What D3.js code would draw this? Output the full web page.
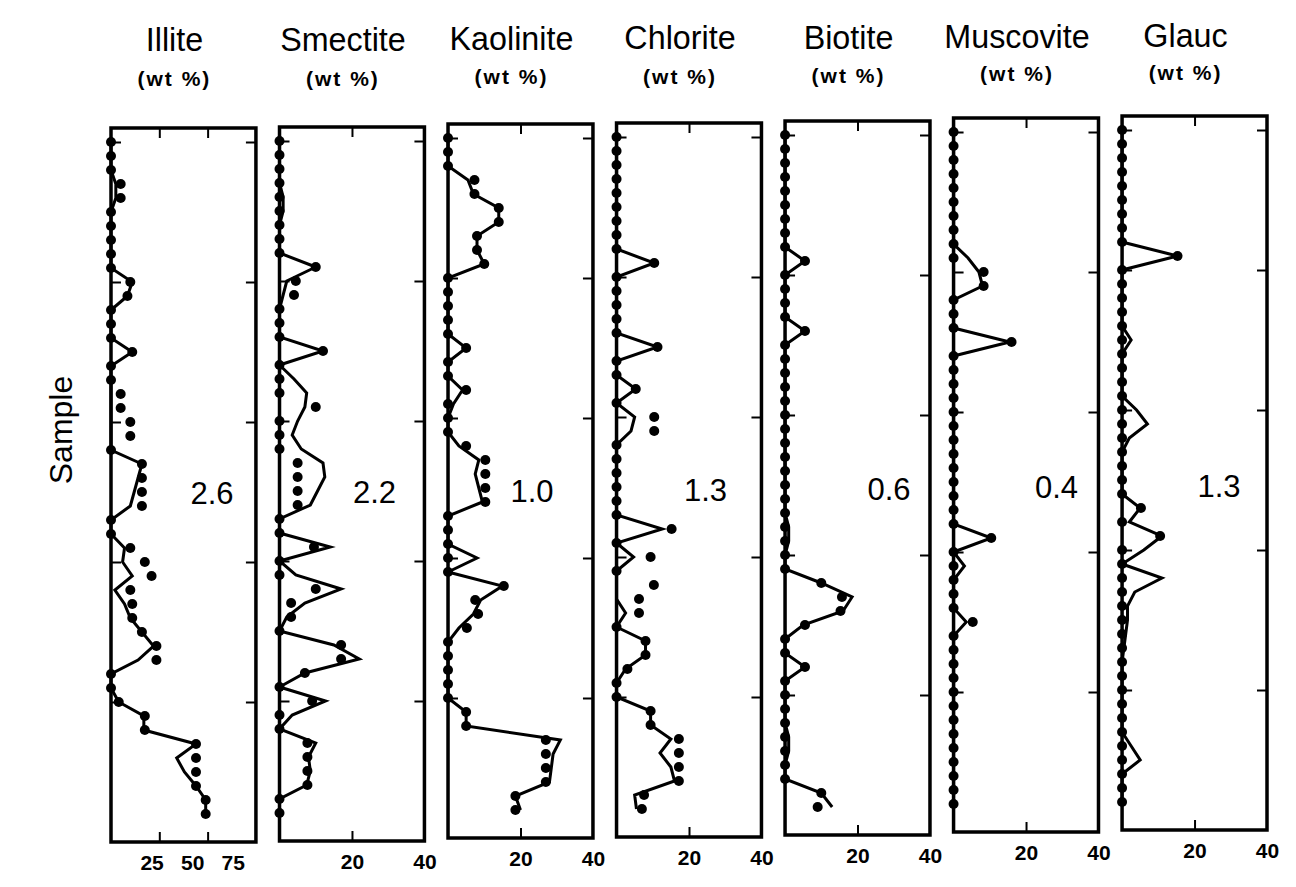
<!DOCTYPE html>
<meta charset="utf-8">
<script src="https://d3js.org/d3.v7.min.js"></script>
<style>
body { margin: 0; background: #fff; }
text { fill: #000; }
</style>
<div id="chart"></div>
<script>

// minerals, axis limits and the totals printed in each column
var minerals = ["Illite", "Smectite", "Kaolinite", "Chlorite", "Biotite", "Muscovite", "Glauc"];
var xMax = [75, 40, 40, 40, 40, 40, 40];
var xTickValues = [[25, 50, 75], [20, 40], [20, 40], [20, 40], [20, 40], [20, 40], [20, 40]];
var totals = ["2.6", "2.2", "1.0", "1.3", "0.6", "0.4", "1.3"];
var sampleTicks = [0, 10, 20, 30, 40];

// measured wt % (dots) and modelled wt % (line), one value per sample, top to bottom
var illiteMeasured = [0,0,0,5,5,0,0,0,0,0,10,8.5,0,0,0,11,0,0,5,5,10,10,0,16,16,16,16,0,0,10,17.5,21,10,11,11,16,23.5,23.5,0,0,4,17.5,17.5,44,44,44,44,49,49];
var illiteModel    = [0,0,0,2.5,2.5,0,0,0,0,0,11,8.5,0,0,0,11,0,0,0,0,0,0,0,16,14,12,10,0,0,7,6,11,2,7,10,16,22,14,0,0,4,17,17,44,34,38,44,49,49];

var smectiteMeasured = [0,0,0,0,0,0,0,0,0,10,4.5,4,0,0,0,12,0,0,0,10,0,0,0,5,5,5,5,0,0,9.5,0,0,10,3.2,3.2,0,17,17,7,0,9,0,0,7.7,7.7,7.7,7.7,0,0];
var smectiteModel    = [0,0,0,0,1,1,0,0,0,10,2,1,0,0,0,12,0,4,7.5,7,5,3.5,6,12,12.5,10.5,8.5,0,0,14,0,4.5,17,7,2,0,15,22,7,0,12.7,3.5,0,10,8,8.5,7.5,0,0];

var kaoliniteMeasured = [0,0,0,7.3,7.3,14,14,8,8,10,0,0,0,0,0,5,0,0,5,0,0,0,5,10.3,10.3,10.3,10.3,0,0,0,0,0,15.4,7.5,8.3,5.2,0,0,0,0,0,5,5,27,27,27,27,18.6,18.6];
var kaoliniteModel    = [0,0,0,5.5,7,14,14,8,8,10,0,0,0,0,0,5,0,0,4,1.5,0,0,3,8.5,7.5,8.5,9.5,0,0,0,8,0,15,9,7,3,0,0,0,0,0,5,5,31,29,28.5,28,18.6,20];

var chloriteMeasured = [0,0,0,0,0,0,0,0,0,10.4,0,0,0,0,0,11.3,0,0,5.3,0,10.4,10.4,0,0,0,0,0,0,15.2,0,9.4,0,10.3,6.2,6.2,0,8,8,3,0,0,9.4,9.4,17.2,17.2,17.2,17.2,7.6,7];
var chloriteModel    = [0,0,0,0,0,0,0,0,0,10.4,0,0,0,0,0,11.3,0,0,5.3,0,5,4,0,0,0,0,0,0,12.6,0,4.7,0,0,0,2.5,0,8,8,2.5,0,0,9.4,9.4,15,12,15,16,5,5.5];

var biotiteMeasured = [0,0,0,0,0,0,0,0,0,5.5,0,0,0,0,5.5,0,0,0,0,0,0,0,0,0,0,0,0,0,0,0,0,0,10,15.7,15.3,5.5,0,0,5.5,0,0,0,0,0,0,0,0,10,9];
var biotiteModel    = [0,0,0,0,0,0,0,0,0,5.5,0,0,0,0,5.5,0,0,0,0,0,0,0,0,0,0,0,0,0,1,1,0,0,10,18.5,16,5,0,0,5.5,0,0,0,0,1,1,0,0,10,13];

var muscoviteMeasured = [0,0,0,0,0,0,0,0,0,0,8.3,8.3,0,0,0,16,0,0,0,0,0,0,0,0,0,0,0,0,0,10.4,0,0,0,0,0,5.3,0,0,0,0,0,0,0,0,0,0,0,0,0];
var muscoviteModel    = [0,0,0,0,0,0,0,0,0,4,7,8,0,0,0,15.5,0,0,0,0,0,0,0,0,0,0,0,0,0,10.4,0,3,0,0,0,3.5,0,0,0,0,0,0,0,0,0,0,0,0,0];

var glaucMeasured = [0,0,0,0,0,0,0,0,0,15.3,0,0,0,0,0,0,0,0,0,0,0,0,0,0,0,0,0,5.2,0,10.5,0,0,0,0,0,0,0,0,0,0,0,0,0,0,0,0,0,0,0];
var glaucModel    = [0,0,0,0,0,0,0,0,0,15.3,0,0,0,0,0,2.5,0,0,0,0,4,7,2,0,0,0,0,5,2,11,6,0,11,3.5,1.5,1.5,1,0.5,0,0,0,0,0,0,2.5,5,0,0,0];

var measured = [illiteMeasured, smectiteMeasured, kaoliniteMeasured, chloriteMeasured, biotiteMeasured, muscoviteMeasured, glaucMeasured];
var modelled = [illiteModel, smectiteModel, kaoliniteModel, chloriteModel, biotiteModel, muscoviteModel, glaucModel];

// layout: the scanned original is slightly tilted, so each column sits a bit higher than the last
var W = 1296, H = 887;
var skew = [0, -1, -4, -5, -7, -10, -12];
var totalX = [101, 95, 84, 89, 104, 103, 97];
var labelStretch = [0.84, 1, 1, 1, 1, 1, 1];
var font = "'Liberation Sans', Arial, sans-serif";

var svg = d3.select("#chart").append("svg")
  .attr("width", W)
  .attr("height", H);

var band = d3.scaleBand()
  .domain(minerals)
  .range([111, 1267])
  .paddingInner(0.14);

// y axis title
svg.append("text")
  .attr("transform", "translate(72,430) rotate(-90)")
  .attr("text-anchor", "middle")
  .style("font-family", font)
  .style("font-size", "32px")
  .text("Sample");

minerals.forEach(function(name, k) {
  var x0 = band(name), x1 = x0 + band.bandwidth();
  var cx = x0 + band.bandwidth() / 2 - 9;
  var x = d3.scaleLinear().domain([0, xMax[k]]).range([x0, x1]);
  var y = d3.scaleLinear().domain([-1, 50]).range([128 + skew[k], 842 + skew[k]]);
  var top = y.range()[0], bottom = y.range()[1];
  var g = svg.append("g");

  // titles
  g.append("text")
    .attr("transform", "translate(" + cx + "," + (51 + skew[k] / 3) + ") scale(0.95,1)")
    .attr("text-anchor", "middle")
    .style("font-family", font)
    .style("font-size", "34px")
    .text(name);
  g.append("text")
    .attr("x", cx)
    .attr("y", 86 + skew[k] / 2)
    .attr("text-anchor", "middle")
    .style("font-family", font)
    .style("font-size", "21px")
    .style("font-weight", "bold")
    .style("letter-spacing", "2px")
    .text("(wt %)");

  // inward ticks on all four sides
  var tickLen = 10;
  var inner = xTickValues[k].filter(function(v) { return v < xMax[k]; });
  g.append("g").attr("transform", "translate(0," + top + ")")
    .call(d3.axisBottom(x).tickValues(inner).tickSize(tickLen).tickFormat(""))
    .call(function(a) { a.select(".domain").remove(); });
  g.append("g").attr("transform", "translate(0," + bottom + ")")
    .call(d3.axisTop(x).tickValues(inner).tickSize(tickLen).tickFormat(""))
    .call(function(a) { a.select(".domain").remove(); });
  g.append("g").attr("transform", "translate(" + x0 + ",0)")
    .call(d3.axisRight(y).tickValues(sampleTicks).tickSize(tickLen).tickFormat(""))
    .call(function(a) { a.select(".domain").remove(); });
  g.append("g").attr("transform", "translate(" + x1 + ",0)")
    .call(d3.axisLeft(y).tickValues(sampleTicks).tickSize(tickLen).tickFormat(""))
    .call(function(a) { a.select(".domain").remove(); });
  g.selectAll(".tick line").attr("stroke", "#000").attr("stroke-width", 2);

  // bottom labels
  var xl = x.copy().range([x0, x0 + (x1 - x0) * labelStretch[k]]);
  var lab = g.append("g").attr("transform", "translate(0," + (bottom + 9) + ")")
    .call(d3.axisBottom(xl).tickValues(xTickValues[k]).tickSize(0).tickPadding(4).tickFormat(d3.format("d")));
  lab.select(".domain").remove();
  lab.selectAll("text")
    .style("font-family", font)
    .style("font-size", "21px")
    .style("font-weight", "bold")
    .attr("fill", "#000");

  // frame
  g.append("rect")
    .attr("x", x0).attr("y", top)
    .attr("width", x1 - x0).attr("height", bottom - top)
    .attr("fill", "none")
    .attr("stroke", "#000")
    .attr("stroke-width", 3.5);

  // model line
  var line = d3.line()
    .x(function(d) { return x(d); })
    .y(function(d, i) { return y(i); });
  g.append("path")
    .datum(modelled[k])
    .attr("d", line)
    .attr("fill", "none")
    .attr("stroke", "#000")
    .attr("stroke-width", 3)
    .attr("stroke-linejoin", "miter");

  // measured dots
  g.selectAll("circle")
    .data(measured[k].map(function(v, i) { return {v: v, i: i}; }).filter(function(d) { return d.v !== null; }))
    .enter().append("circle")
    .attr("cx", function(d) { return x(d.v); })
    .attr("cy", function(d) { return y(d.i); })
    .attr("r", 5)
    .attr("fill", "#000");

  // total
  g.append("text")
    .attr("x", x0 + totalX[k])
    .attr("y", 504 + skew[k] * 0.6)
    .attr("text-anchor", "middle")
    .style("font-family", font)
    .style("font-size", "31px")
    .text(totals[k]);
});

</script>
